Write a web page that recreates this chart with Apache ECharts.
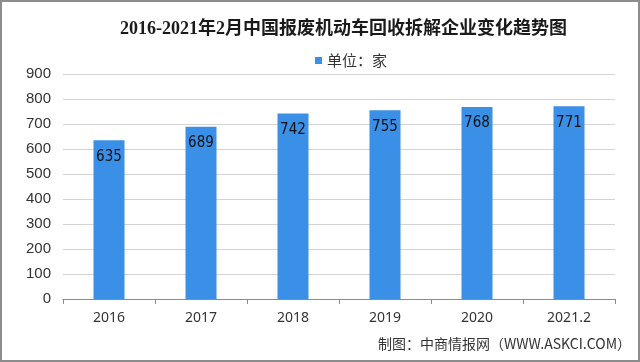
<!DOCTYPE html>
<html><head><meta charset="utf-8">
<script src="https://cdn.jsdelivr.net/npm/echarts@6/dist/echarts.min.js"></script>
<style>html,body{margin:0;padding:0;background:#fff}#c{width:640px;height:362px;box-sizing:border-box;border:2px solid #8c8c8c}</style>
</head><body><div id="c"></div>
<script>
var titleText = '2016-2021年2月中国报废机动车回收拆解企业变化趋势图';
var legendName = '单位：家';
var sourceText = '制图：中商情报网（WWW.ASKCI.COM）';
var categories = ['2016', '2017', '2018', '2019', '2020', '2021.2'];
var values = [635, 689, 742, 755, 768, 771];

var chart = echarts.init(document.getElementById('c'), null, {renderer: 'canvas'});
chart.setOption({
  animation: false,
  title: {
    text: titleText, left: 113, top: 13,
    textStyle: {fontFamily: '"Liberation Serif","Noto Sans CJK SC",serif', fontWeight: 'bold', fontSize: 18, color: '#1a1a1a'}
  },
  legend: {
    data: [legendName], top: 46, left: 308, itemWidth: 7, itemHeight: 7, itemGap: 4,
    icon: 'rect',
    textStyle: {fontFamily: '"Noto Sans CJK SC",sans-serif', fontSize: 15, color: '#333'}
  },
  graphic: [{
    type: 'text', right: 7, top: 335,
    style: {text: sourceText, font: '14px "Noto Sans CJK SC", sans-serif', fill: '#333'}
  }],
  grid: {left: 61, right: 23, top: 72, bottom: 61},
  xAxis: {
    type: 'category', data: categories,
    axisLine: {lineStyle: {color: '#8c8c8c'}},
    axisTick: {show: true, length: 5, lineStyle: {color: '#8c8c8c'}},
    axisLabel: {fontFamily: '"Noto Sans",sans-serif', fontSize: 14, color: '#333', margin: 12}
  },
  yAxis: {
    type: 'value', min: 0, max: 900, interval: 100,
    axisLine: {show: false}, axisTick: {show: false},
    splitLine: {lineStyle: {color: '#d4d4d4'}},
    axisLabel: {fontFamily: '"Liberation Sans",Arial,sans-serif', fontSize: 15, color: '#333', margin: 12}
  },
  series: [{
    name: legendName, type: 'bar', data: values, barWidth: 31,
    itemStyle: {color: '#3a8fe6'},
    label: {show: true, position: 'insideTop', distance: 9,
      fontFamily: '"DejaVu Sans Condensed","DejaVu Sans",sans-serif', fontSize: 15, color: '#111'}
  }]
});
</script></body></html>
